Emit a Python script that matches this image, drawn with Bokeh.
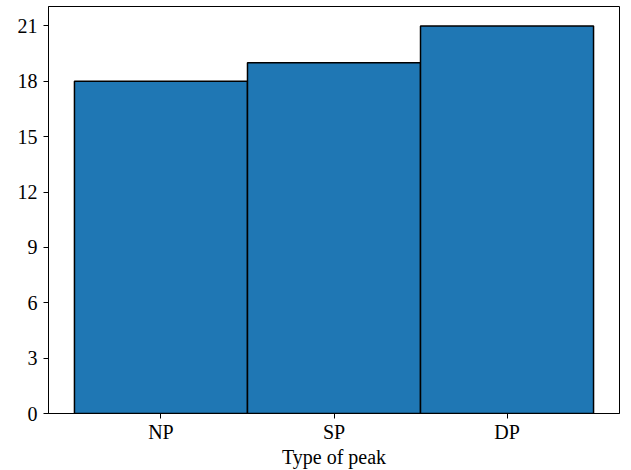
from bokeh.plotting import figure
from bokeh.models import Range1d, FixedTicker
from bokeh.embed import file_html
from bokeh.resources import INLINE

categories = ["NP", "SP", "DP"]
counts = [18, 19, 21]
y_ticks = [0, 3, 6, 9, 12, 15, 18, 21]
x_label = "Type of peak"

xs = list(range(len(categories)))
FONT = "Liberation Serif"

p = figure(width=623, height=470, output_backend="svg", toolbar_location=None,
           x_range=Range1d(-0.65, len(categories) - 1 + 0.65),
           y_range=Range1d(0, max(counts) * 1.05),
           min_border_left=48, min_border_right=4, min_border_top=6, min_border_bottom=53)

p.vbar(x=xs, top=counts, bottom=0, width=1.0, fill_color="#1f77b4",
       line_color="black", line_width=1.5)

p.xgrid.visible = False
p.ygrid.visible = False
p.outline_line_color = "black"
p.outline_line_width = 1
p.outline_line_alpha = 1

p.xaxis.ticker = FixedTicker(ticks=xs)
p.xaxis.major_label_overrides = {i: c for i, c in enumerate(categories)}
p.yaxis.ticker = FixedTicker(ticks=y_ticks)
p.xaxis.axis_label = x_label

for ax in (p.xaxis, p.yaxis):
    ax.axis_line_color = "black"
    ax.major_tick_line_color = "black"
    ax.major_tick_out = 5
    ax.major_tick_in = 0
    ax.minor_tick_line_color = None
    ax.major_label_text_font = FONT
    ax.major_label_text_font_size = "20px"
    ax.major_label_text_color = "black"
    ax.major_label_text_line_height = 0.9
    ax.axis_label_text_font = FONT
    ax.axis_label_text_font_size = "20px"
    ax.axis_label_text_font_style = "normal"
    ax.axis_label_text_color = "black"
    ax.axis_label_text_line_height = 0.9

p.xaxis.major_label_standoff = 2
p.xaxis.axis_label_standoff = 0
p.yaxis.major_label_standoff = 6

open("out.html", "w").write(file_html(p, INLINE))
